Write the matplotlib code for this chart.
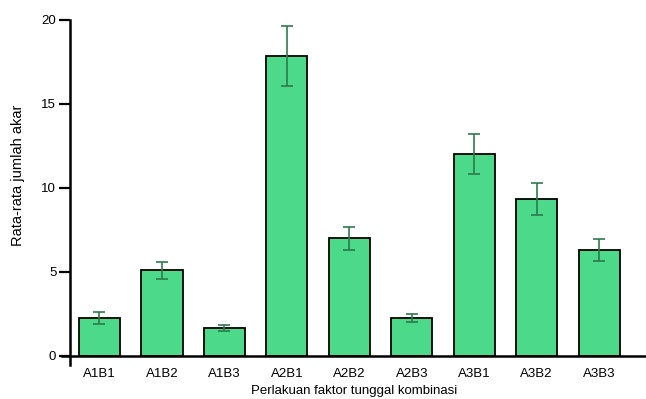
import matplotlib.pyplot as plt

plt.rcParams['font.family'] = ['Liberation Sans', 'DejaVu Sans']

# treatment combinations and mean root counts
labels = ["A1B1", "A1B2", "A1B3", "A2B1", "A2B2", "A2B3", "A3B1", "A3B2", "A3B3"]
means = [2.25, 5.1, 1.65, 17.85, 7.0, 2.25, 12.0, 9.35, 6.3]
errors = [0.35, 0.5, 0.2, 1.8, 0.7, 0.25, 1.2, 0.95, 0.65]

fig = plt.figure(figsize=(6.46, 3.99), dpi=100)
ax = fig.add_axes([0.096, 0.085, 0.904, 0.865])

x = list(range(len(labels)))
ax.bar(x, means, width=0.66, color="#4cd98a", edgecolor="black", linewidth=1.3, zorder=2)
ax.errorbar(x, means, yerr=errors, fmt="none", ecolor="#2f7a4c", elinewidth=1.2,
            capsize=4.3, capthick=1.2, zorder=3)

ax.set_xlim(-0.6, 8.75)
ax.set_ylim(-0.55, 20)

# GraphPad-like axes crossing
for side in ["top", "right"]:
    ax.spines[side].set_visible(False)
ax.spines["bottom"].set_position(("data", 0))
ax.spines["left"].set_position(("data", -0.48))
ax.spines["bottom"].set_linewidth(1.8)
ax.spines["left"].set_linewidth(1.8)

ax.set_yticks([0, 5, 10, 15, 20])
ax.tick_params(axis="y", length=8, width=1.6, labelsize=9.5, pad=1.5)
ax.set_xticks(x)
ax.set_xticklabels(labels)
ax.tick_params(axis="x", length=0, labelsize=9.5, pad=9)

ax.set_ylabel("Rata-rata jumlah akar", fontsize=10.5)
ax.yaxis.set_label_coords(-0.063, 0.55)
ax.set_xlabel("Perlakuan faktor tunggal kombinasi", fontsize=9.5)
ax.xaxis.set_label_coords(0.5, -0.057)

fig.savefig("out.png", dpi=100)
plt.close(fig)
